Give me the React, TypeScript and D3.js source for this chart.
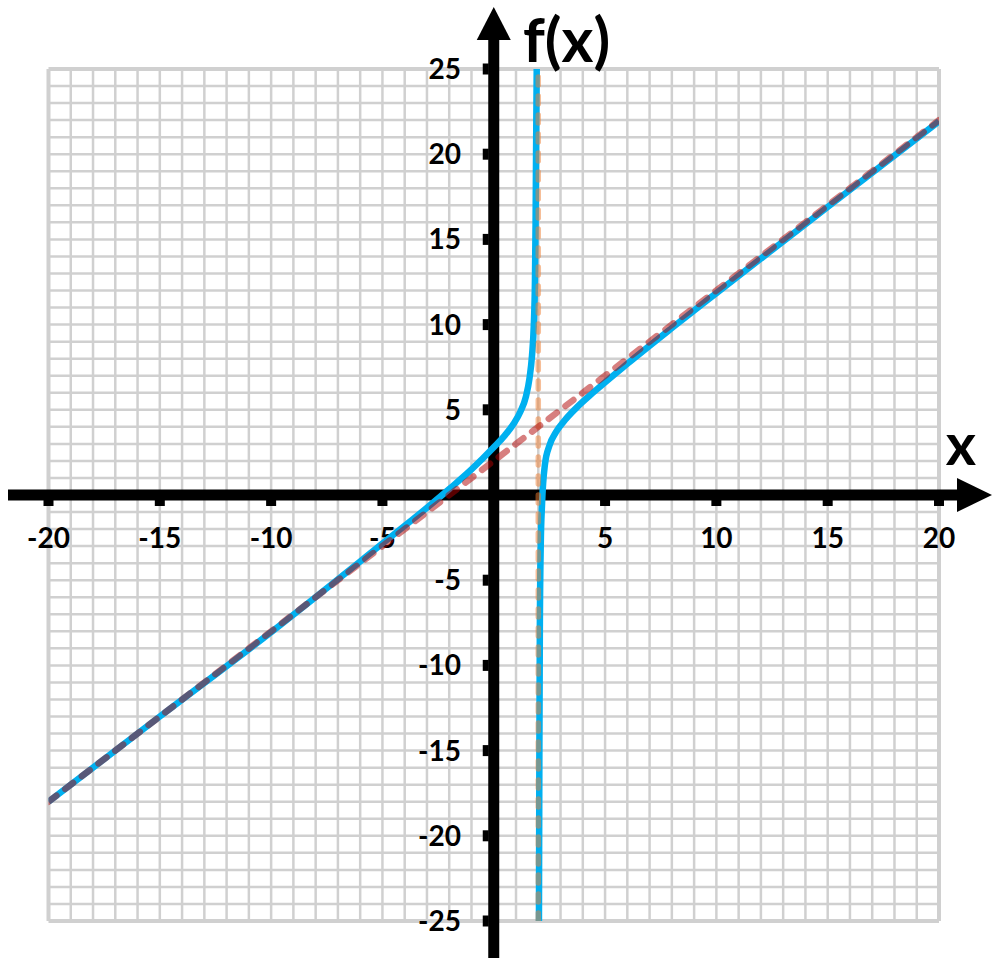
import { useEffect, useRef } from 'react';
import * as d3 from 'd3';

const xDomain = [-20, 20];
const yDomain = [-25, 25];
const xTickValues = [-20, -15, -10, -5, 5, 10, 15, 20];
const yTickValues = [25, 20, 15, 10, 5, -5, -10, -15, -20, -25];

// f(x), branch left of the vertical asymptote
const leftX = [-20, -15, -10, -5, -3, -2, -1, 0, 0.5, 0.9, 1.2, 1.45, 1.6, 1.72, 1.8, 1.85, 1.88, 1.9, 1.93];
const leftY = [-18, -13, -8.05, -2.85, -0.75, 0.35, 1.5, 2.8, 3.5, 4.2, 4.9, 5.8, 6.8, 8.2, 10, 12.5, 16, 20, 25];

// f(x), branch right of the vertical asymptote
const rightX = [2.03, 2.04, 2.05, 2.07, 2.11, 2.17, 2.3, 2.5, 2.8, 3.2, 3.7, 4.5, 6, 8, 10, 15, 20];
const rightY = [-25, -20, -15, -8, -3, -0.5, 1.8, 2.9, 3.7, 4.4, 5.1, 6.05, 7.7, 9.8, 11.85, 16.9, 21.93];

// asymptotes
const obliqueX = [-20, 20];
const obliqueY = [-18, 22];
const verticalX = [2, 2];
const verticalY = [-25, 25];

export default function App() {
    const svgRef = useRef<SVGSVGElement>(null);
    const width = 1000;
    const height = 974;

    useEffect(() => {
        if (!svgRef.current) return;

        d3.select(svgRef.current).selectAll('*').remove();

        const svg = d3.select(svgRef.current).attr('width', width).attr('height', height);

        const x = d3.scaleLinear().domain(xDomain).range([48.5, 939]);
        const y = d3.scaleLinear().domain(yDomain).range([921, 69]);
        const font = "Lato, 'Open Sans', sans-serif";

        // grid
        const grid = svg.append('g').attr('stroke', '#d0d0d0');
        d3.range(xDomain[0], xDomain[1] + 1).forEach((v) => {
            grid.append('line')
                .attr('x1', x(v)).attr('x2', x(v))
                .attr('y1', y(yDomain[1])).attr('y2', y(yDomain[0]))
                .attr('stroke-width', Math.abs(v) === 20 ? 4 : 2.5);
        });
        d3.range(yDomain[0], yDomain[1] + 1).forEach((v) => {
            grid.append('line')
                .attr('x1', x(xDomain[0])).attr('x2', x(xDomain[1]))
                .attr('y1', y(v)).attr('y2', y(v))
                .attr('stroke-width', Math.abs(v) === 25 ? 4 : 2.5);
        });

        // axes
        const x0 = x(0);
        const y0 = y(0);
        svg.append('line')
            .attr('x1', 8).attr('x2', 960)
            .attr('y1', y0).attr('y2', y0)
            .attr('stroke', '#000').attr('stroke-width', 11);
        svg.append('path')
            .attr('d', `M957,${y0 - 17}L992,${y0}L957,${y0 + 17}Z`)
            .attr('fill', '#000');
        svg.append('line')
            .attr('x1', x0).attr('x2', x0)
            .attr('y1', 958).attr('y2', 38)
            .attr('stroke', '#000').attr('stroke-width', 11);
        svg.append('path')
            .attr('d', `M${x0 - 17},40L${x0},7L${x0 + 17},40Z`)
            .attr('fill', '#000');

        // ticks
        xTickValues.forEach((v) => {
            svg.append('rect')
                .attr('x', x(v) - 5).attr('y', y0 + 5)
                .attr('width', 10).attr('height', 6)
                .attr('fill', '#000');
            svg.append('text')
                .attr('x', x(v)).attr('y', y0 + 53)
                .attr('text-anchor', 'middle')
                .attr('font-family', font).attr('font-weight', 700)
                .attr('font-size', 28)
                .text(v);
        });
        yTickValues.forEach((v) => {
            svg.append('rect')
                .attr('x', x0 - 11).attr('y', y(v) - 5.5)
                .attr('width', 6).attr('height', 11)
                .attr('fill', '#000');
            svg.append('text')
                .attr('x', 461).attr('y', y(v) + 10)
                .attr('text-anchor', 'end')
                .attr('font-family', font).attr('font-weight', 700)
                .attr('font-size', 28)
                .text(v);
        });

        // axis titles
        svg.append('text')
            .attr('x', 523).attr('y', 62)
            .attr('font-family', font).attr('font-weight', 700)
            .attr('font-size', 61)
            .text('f(x)');
        svg.append('text')
            .attr('x', 961).attr('y', 465)
            .attr('text-anchor', 'middle')
            .attr('font-family', font).attr('font-weight', 700)
            .attr('font-size', 58)
            .text('x');

        // curves
        svg.append('clipPath').attr('id', 'plot-clip')
            .append('rect')
            .attr('x', x(xDomain[0])).attr('y', y(yDomain[1]))
            .attr('width', x(xDomain[1]) - x(xDomain[0]))
            .attr('height', y(yDomain[0]) - y(yDomain[1]));

        const plot = svg.append('g').attr('clip-path', 'url(#plot-clip)');

        const curve = d3.line<number>()
            .x((d) => x(d))
            .curve(d3.curveMonotoneX);

        plot.append('path')
            .attr('d', curve.y((d, i) => y(leftY[i]))(leftX))
            .attr('fill', 'none').attr('stroke', '#00b0f0').attr('stroke-width', 6.5);
        plot.append('path')
            .attr('d', curve.y((d, i) => y(rightY[i]))(rightX))
            .attr('fill', 'none').attr('stroke', '#00b0f0').attr('stroke-width', 6.5);

        const straight = d3.line<number>().x((d) => x(d));

        plot.append('path')
            .attr('d', straight.y((d, i) => y(verticalY[i]))(verticalX))
            .attr('fill', 'none').attr('stroke', '#ed7d31').attr('stroke-opacity', 0.5)
            .attr('stroke-width', 5.5).attr('stroke-dasharray', '8 11')
            .attr('stroke-linecap', 'round');
        plot.append('path')
            .attr('d', straight.y((d, i) => y(obliqueY[i]))(obliqueX))
            .attr('fill', 'none').attr('stroke', '#b00000').attr('stroke-opacity', 0.5)
            .attr('stroke-width', 6.5).attr('stroke-dasharray', '10 11')
            .attr('stroke-linecap', 'round');
    }, []);

    return (
        <div style={{ position: 'absolute', left: 0, top: 0 }}>
            <svg ref={svgRef} style={{ display: 'block' }}></svg>
        </div>
    );
}
